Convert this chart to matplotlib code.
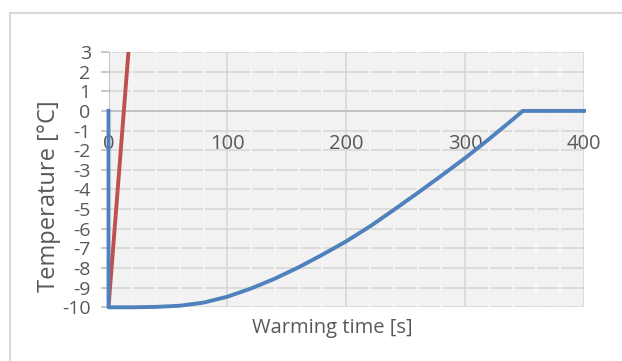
import numpy as np
import matplotlib.pyplot as plt
from matplotlib.lines import Line2D

# warming curve (blue) and reference line (red)
t_warm = [0, 0, 20, 40, 60, 80, 100, 120, 140, 160, 180, 200,
          220, 240, 260, 280, 300, 320, 340, 348.5, 400]
T_warm = [0, -10, -10, -9.98, -9.92, -9.76, -9.46, -9.04, -8.54, -7.96, -7.32,
          -6.64, -5.88, -5.04, -4.18, -3.3, -2.4, -1.44, -0.44, 0, 0]
t_ref = [0, 20]
T_ref = [-10, 5.5]

x_ticks = [0, 100, 200, 300, 400]
y_ticks = list(range(-10, 4))

W, H = 622, 361
fig = plt.figure(figsize=(W / 100, H / 100), dpi=100)
plt.rcParams['font.family'] = ['Open Sans', 'DejaVu Sans']
txt = '#595959'
grid = '#d9d9d9'

# chart border (cropped)
fig.add_artist(Line2D([10 / W, 1], [1 - 12.5 / H] * 2, color=grid, lw=1.5, transform=fig.transFigure))
fig.add_artist(Line2D([10 / W] * 2, [0, 1 - 12.5 / H], color=grid, lw=1.5, transform=fig.transFigure))

ax = fig.add_axes([108.5 / W, 1 - 307.3 / H, 475.5 / W, 255.3 / H])
ax.set_facecolor('#f2f2f2')
ax.set_xlim(0, 400)
ax.set_ylim(-10, 3)

for y in y_ticks:
    ax.axhline(y, color=grid, lw=1.3, zorder=1)
for x in np.arange(20, 400, 20):
    if x % 100:
        ax.axvline(x, color='#f4f4f4', lw=1.6, zorder=1.5)
for x in x_ticks[1:]:
    ax.axvline(x, color=grid, lw=1.3, zorder=1.6)
ax.axhline(0, color='#bfbfbf', lw=1.3, zorder=2)
ax.axvline(0, color='#bfbfbf', lw=1.3, zorder=2)

ax.plot(t_ref, T_ref, color='#c0504d', lw=2.8, zorder=3)
ax.plot(t_warm, T_warm, color='#4f81bd', lw=2.8, zorder=4, clip_on=False,
        solid_joinstyle='round')

for s in ax.spines.values():
    s.set_visible(False)

ax.set_yticks(y_ticks)
ax.set_yticklabels([str(y) for y in y_ticks])
ax.tick_params(axis='y', length=5.8, width=1.2, color='#bfbfbf', labelsize=14,
               labelcolor=txt, pad=7)
ax.set_xticks([])
for x in x_ticks:
    ax.text(x, -1.68, str(x), ha='center', va='center', fontsize=14.5, color=txt)

ax.set_ylabel('Temperature [°C]', fontsize=17, color=txt)
ax.yaxis.set_label_coords(-(108.5 - 49) / 475.5, (307.3 - 196) / 255.3)
ax.set_xlabel('Warming time [s]', fontsize=14.5, color=txt)
ax.xaxis.set_label_coords((332.5 - 108.5) / 475.5, -(328 - 307.3) / 255.3)
ax.xaxis.label.set_va('center')
ax.yaxis.label.set_va('center')

fig.savefig('out.png', dpi=100)
